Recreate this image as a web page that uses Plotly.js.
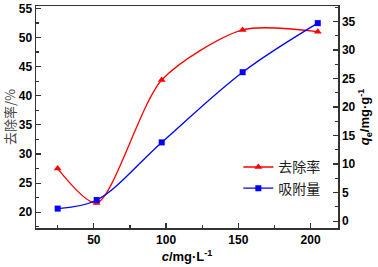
<!DOCTYPE html>
<html><head><meta charset="utf-8">
<script src="https://cdn.plot.ly/plotly-3.0.1.min.js"></script>
<style>body{margin:0;padding:0;background:#fff}#c{width:378px;height:267px}</style>
</head><body><div id="c"></div>
<script>
const conc = [25, 52, 97, 153, 205];
const removal = [27.5, 21.6, 42.7, 51.3, 51.0];
const adsorption = [2.2, 3.7, 13.8, 26.1, 34.7];
const nameRemoval = '去除率';
const nameAdsorption = '吸附量';

const tickFont = {family: 'Arial, Liberation Sans, sans-serif', size: 12, color: '#000', weight: 'bold'};
const traces = [
  {x: conc, y: removal, name: nameRemoval, type: 'scatter', mode: 'lines+markers',
   line: {color: '#ff0000', width: 1.3, shape: 'spline', smoothing: 0.75},
   marker: {symbol: 'triangle-up', size: 7, color: '#ff0000'}, yaxis: 'y'},
  {x: conc, y: adsorption, name: nameAdsorption, type: 'scatter', mode: 'lines+markers',
   line: {color: '#0000ff', width: 1.3, shape: 'spline', smoothing: 1},
   marker: {symbol: 'square', size: 6, color: '#0000ff'}, yaxis: 'y2'}
];
const axisCommon = {showline: true, linecolor: '#333', linewidth: 1.5, ticks: 'inside', ticklen: 5,
  tickwidth: 1.2, tickcolor: '#333', showgrid: false, zeroline: false, tickfont: tickFont};
const layout = {
  width: 378, height: 267,
  margin: {l: 36, r: 40, t: 6, b: 39},
  paper_bgcolor: '#fff', plot_bgcolor: '#fff',
  showlegend: true,
  legend: {x: 0.67, y: 0.345, xanchor: 'left', yanchor: 'top', bgcolor: 'rgba(0,0,0,0)',
    font: {family: 'Noto Sans CJK SC', size: 14, color: '#222'}, tracegroupgap: 0, itemwidth: 30},
  xaxis: Object.assign({}, axisCommon, {range: [10, 219], tickvals: [50, 100, 150, 200], mirror: true,
    minor: {dtick: 25, tick0: 0, ticks: 'inside', ticklen: 3, tickcolor: '#333'},
    title: {text: '<i>c</i>/mg·L<sup>-1</sup>', font: {family: 'Arial, Liberation Sans, sans-serif', size: 13, color: '#000', weight: 'bold'}, standoff: 6}}),
  yaxis: Object.assign({}, axisCommon, {range: [17.3, 55.4], tickvals: [20, 25, 30, 35, 40, 45, 50, 55],
    minor: {dtick: 2.5, tick0: 0, ticks: 'inside', ticklen: 3, tickcolor: '#333'},
    title: {text: '去除率/%', font: {family: 'Noto Sans CJK SC', size: 13, color: '#444'}, standoff: 4}}),
  yaxis2: Object.assign({}, axisCommon, {overlaying: 'y', side: 'right', range: [-1.2, 37.7],
    tickvals: [0, 5, 10, 15, 20, 25, 30, 35],
    minor: {dtick: 2.5, tick0: 0, ticks: 'inside', ticklen: 3, tickcolor: '#333'},
    title: {text: '<b><i>q</i><sub>e</sub>/mg·g<sup>-1</sup></b>', font: {family: 'Arial, Liberation Sans, sans-serif', size: 13, color: '#000'}, standoff: 4}})
};
Plotly.newPlot('c', traces, layout, {displayModeBar: false, staticPlot: true});
</script></body></html>
